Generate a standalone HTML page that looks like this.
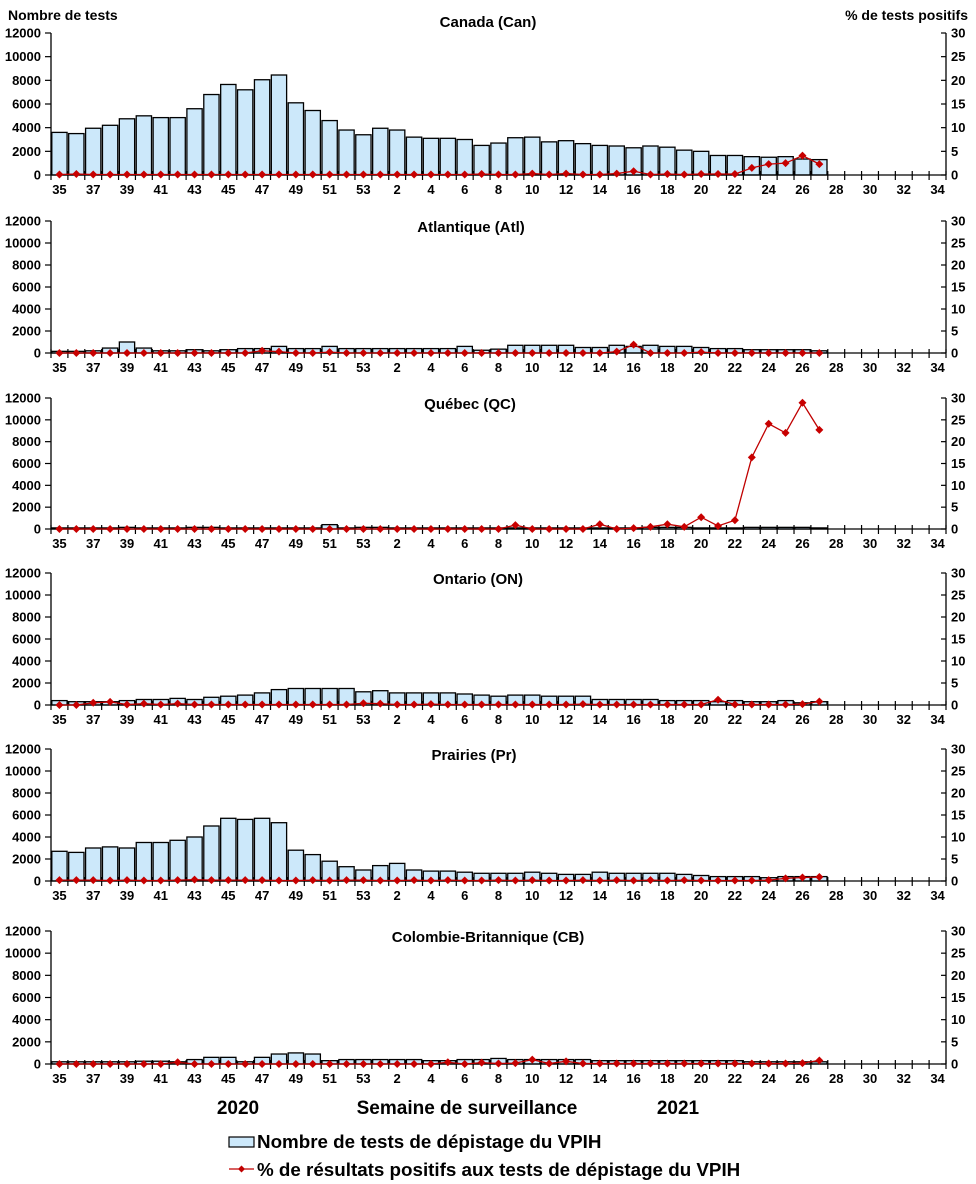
<!DOCTYPE html>
<html><head><meta charset="utf-8"><style>
body{margin:0;background:#fff;}
svg{display:block;font-family:"Liberation Sans",Arial,sans-serif;font-weight:bold;}
</style></head><body>
<svg id="chart" width="976" height="1184" viewBox="0 0 976 1184">
<text x="8" y="20" font-size="14">Nombre de tests</text>
<text x="968" y="20" font-size="14" text-anchor="end">%  de tests positifs</text>
<text x="238" y="1114" font-size="19" text-anchor="middle">2020</text>
<text x="467" y="1114" font-size="19" text-anchor="middle">Semaine de surveillance</text>
<text x="678" y="1114" font-size="19" text-anchor="middle">2021</text>
<g>
<rect x="229" y="1137" width="25" height="10" fill="#cce8fa" stroke="#000" stroke-width="1.2"/>
<text x="257" y="1148" font-size="18.8">Nombre de tests de dépistage du VPIH</text>
<line x1="229" y1="1169" x2="254" y2="1169" stroke="#c00000" stroke-width="1.2"/>
<path d="M241.5 1165.5 L245 1169 L241.5 1172.5 L238 1169 Z" fill="#c00000"/>
<text x="257" y="1176" font-size="18.8">% de résultats positifs aux tests de dépistage du VPIH</text>
</g>
</svg>
<script>
const weekLabels = ['35','36','37','38','39','40','41','42','43','44','45','46','47','48','49','50','51','52','53','1','2','3','4','5','6','7','8','9','10','11','12','13','14','15','16','17','18','19','20','21','22','23','24','25','26','27','28','29','30','31','32','33','34'];
const yTicks = [0,2000,4000,6000,8000,10000,12000];
const pTicks = [0,5,10,15,20,25,30];
const regionNames = ['Canada (Can)','Atlantique (Atl)','Québec (QC)','Ontario (ON)','Prairies (Pr)','Colombie-Britannique (CB)'];
const testsCan = [3600,3500,3950,4200,4750,5000,4850,4850,5600,6800,7650,7200,8050,8450,6100,5450,4600,3800,3400,3950,3800,3200,3100,3100,3000,2500,2700,3150,3200,2800,2900,2650,2500,2450,2300,2450,2350,2100,2000,1650,1650,1550,1500,1550,1350,1300];
const pctCan = [0.1,0.2,0.1,0.1,0.1,0.1,0.1,0.1,0.1,0.1,0.1,0.1,0.1,0.1,0.1,0.1,0.1,0.1,0.1,0.1,0.1,0.1,0.1,0.1,0.1,0.2,0.1,0.1,0.3,0.1,0.3,0.1,0.1,0.3,0.8,0.1,0.2,0.1,0.2,0.2,0.2,1.5,2.3,2.5,4.1,2.3];
const testsAtl = [150,150,200,450,1000,450,200,200,300,200,300,400,400,600,400,400,600,400,400,400,400,400,400,400,600,250,350,700,700,700,700,500,500,700,600,700,600,600,500,400,400,300,300,300,300,200];
const pctAtl = [0,0,0,0,0,0,0,0,0,0,0,0,0.5,0.3,0,0,0.2,0,0,0,0,0,0,0,0,0,0,0,0,0,0,0,0,0.3,1.9,0,0,0,0.2,0,0,0,0,0,0,0];
const testsQC = [100,100,100,100,150,100,100,100,150,150,100,100,100,100,100,100,400,100,150,150,100,100,100,100,100,100,100,100,100,100,100,100,100,100,100,150,150,150,100,100,100,150,150,150,150,100];
const pctQC = [0,0,0,0,0,0,0,0,0,0,0,0,0,0,0,0,0,0,0,0,0,0,0,0,0,0,0,0.9,0,0,0,0,1.1,0,0.2,0.5,1.1,0.5,2.7,0.7,2,16.4,24.1,22,28.9,22.7];
const testsON = [400,300,300,300,400,500,500,600,500,700,800,900,1100,1400,1500,1500,1500,1500,1200,1300,1100,1100,1100,1100,1000,900,800,900,900,800,800,800,500,500,500,500,400,400,400,300,400,300,300,400,200,300];
const pctON = [0,0,0.5,0.7,0.1,0.3,0.1,0.3,0.1,0.1,0.1,0.1,0.1,0.1,0.1,0.1,0.1,0.1,0.4,0.3,0.1,0.1,0.2,0.1,0.1,0.1,0.1,0.1,0.1,0.1,0.1,0.2,0.1,0.1,0.1,0.1,0.1,0.1,0.1,1.2,0.1,0.1,0.1,0.1,0.2,0.8];
const testsPr = [2700,2600,3000,3100,3000,3500,3500,3700,4000,5000,5700,5600,5700,5300,2800,2400,1800,1300,1000,1400,1600,1000,900,900,800,700,700,700,800,700,600,600,800,700,700,700,700,600,500,400,400,400,300,400,400,400];
const pctPr = [0.2,0.2,0.2,0.1,0.2,0.1,0.1,0.2,0.3,0.2,0.2,0.2,0.2,0.1,0.1,0.2,0.1,0.2,0.2,0.1,0.1,0.2,0.1,0.2,0.1,0.1,0.2,0.1,0.2,0.1,0.1,0.2,0.1,0.2,0.1,0.2,0.1,0.2,0.1,0.1,0.1,0.1,0.2,0.6,0.8,0.9];
const testsCB = [200,200,200,200,200,250,250,200,400,600,600,200,600,900,1000,900,300,400,400,400,400,400,300,300,400,400,500,400,400,400,400,400,300,300,300,300,300,300,300,300,300,200,200,200,200,200];
const pctCB = [0,0,0,0,0,0,0,0.4,0,0,0,0,0,0,0,0,0,0,0,0,0,0,0,0.4,0,0.3,0.1,0.2,1,0.1,0.6,0.1,0.1,0.1,0.1,0.1,0.1,0.1,0.1,0.1,0.1,0.1,0.1,0.1,0.2,0.8];
const regionTests = [testsCan,testsAtl,testsQC,testsON,testsPr,testsCB];
const regionPct = [pctCan,pctAtl,pctQC,pctON,pctPr,pctCB];

const NS='http://www.w3.org/2000/svg';
const svg=document.getElementById('chart');
const X0=51,X1=946,slot=(X1-X0)/weekLabels.length;
const panels=[{top:33,zero:175,tx:488},{top:221,zero:353,tx:471},{top:398,zero:529,tx:470},{top:573,zero:705,tx:478},{top:749,zero:881,tx:474},{top:931,zero:1064,tx:488}];
function mk(tag,attrs,parent){const e=document.createElementNS(NS,tag);for(const k in attrs)e.setAttribute(k,attrs[k]);(parent||svg).appendChild(e);return e;}
panels.forEach((p,pi)=>{
  const g=mk('g',{});
  
  
  const yS=v=>p.zero-(v/12000)*(p.zero-p.top);
  const pS=v=>p.zero-(v/30)*(p.zero-p.top);
  const xS=i=>X0+slot*i;
  const t=mk('text',{x:p.tx,y:p.top-(pi==0?6:-11),'font-size':15,'text-anchor':'middle'},g);
  t.textContent=regionNames[pi];
  
  
  regionTests[pi].forEach((v,i)=>{
    const r=mk('rect',{x:xS(i)+0.8,y:yS(v),width:slot-1.6,height:p.zero-yS(v),fill:'#cce8fa',stroke:'#000','stroke-width':1.3},g);
    
    
  });
  const ax=mk('line',{x1:X0,y1:p.top,x2:X0,y2:p.zero,stroke:'#000','stroke-width':1.3},g);
  
  
  const ax2=mk('line',{x1:X1,y1:p.top,x2:X1,y2:p.zero,stroke:'#000','stroke-width':1.3},g);
  
  
  const ax3=mk('line',{x1:X0,y1:p.zero,x2:X1,y2:p.zero,stroke:'#000','stroke-width':1.3},g);
  
  
  yTicks.forEach(v=>{
    mk('line',{x1:X0-6,y1:yS(v),x2:X0,y2:yS(v),stroke:'#000','stroke-width':1.2},g);
    const tl=mk('text',{x:X0-10,y:yS(v)+4.5,'font-size':13,'text-anchor':'end'},g);
    tl.textContent=v;
    
    
  });
  pTicks.forEach(v=>{
    mk('line',{x1:X1-5,y1:pS(v),x2:X1,y2:pS(v),stroke:'#000','stroke-width':1.2},g);
    const tl=mk('text',{x:X1+5,y:pS(v)+4.5,'font-size':13},g);
    tl.textContent=v;
    
    
  });
  for(let i=0;i<=weekLabels.length;i++){
    mk('line',{x1:xS(i),y1:p.zero-4,x2:xS(i),y2:p.zero+5,stroke:'#000','stroke-width':1.2},g);
  }
  weekLabels.forEach((w,i)=>{
    if(i%2)return;
    const tl=mk('text',{x:xS(i)+slot/2,y:p.zero+19,'font-size':13,'text-anchor':'middle'},g);
    tl.textContent=w;
    
    
  });
  const pts=regionPct[pi].map((v,i)=>(xS(i)+slot/2)+','+pS(v)).join(' ');
  const pl=mk('polyline',{points:pts,fill:'none',stroke:'#c00000','stroke-width':1.3},g);
  
  
  regionPct[pi].forEach((v,i)=>{
    const cx=xS(i)+slot/2,cy=pS(v);
    const d=mk('path',{d:`M${cx} ${cy-4}L${cx+4} ${cy}L${cx} ${cy+4}L${cx-4} ${cy}Z`,fill:'#c80000'},g);
    
    
  });
});
</script>
</body></html>
